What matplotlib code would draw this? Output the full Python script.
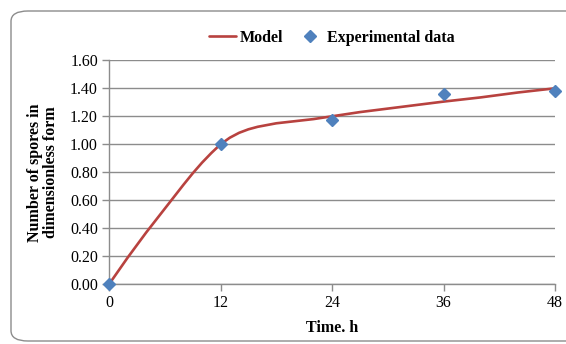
import matplotlib.pyplot as plt
from matplotlib.patches import FancyBboxPatch

plt.rcParams['font.family'] = ['Liberation Serif', 'DejaVu Serif']

# model curve (time in h, dimensionless spore count)
model_t = [0, 1, 2, 3, 4, 5, 6, 7, 8, 9, 10, 11, 12, 13, 14, 15, 16, 18, 20, 22, 24,
           27, 30, 33, 36, 40, 44, 48]
model_y = [0.0, 0.095, 0.19, 0.28, 0.37, 0.455, 0.54, 0.625, 0.71, 0.792, 0.868, 0.937, 1.0,
           1.047, 1.082, 1.107, 1.125, 1.15, 1.165, 1.18, 1.20,
           1.23, 1.255, 1.28, 1.305, 1.335, 1.37, 1.40]

# measured points
exp_t = [0, 12, 24, 36, 48]
exp_y = [0.0, 1.0, 1.175, 1.357, 1.38]

xticks = [0, 12, 24, 36, 48]
yticks = [0.0, 0.2, 0.4, 0.6, 0.8, 1.0, 1.2, 1.4, 1.6]

fig = plt.figure(figsize=(5.66, 3.44), dpi=100)
ax = fig.add_axes([0.1926, 0.1736, 0.788, 0.6511])

# chart frame
frame = FancyBboxPatch((11 / 566, 1 - 341 / 344), 600 / 566, 330 / 344,
                       boxstyle="round,pad=0,rounding_size=0.03",
                       transform=fig.transFigure, facecolor='white',
                       edgecolor='#8c8c8c', linewidth=1.0, zorder=-10)
fig.patches.append(frame)

ax.plot(model_t, model_y, color='#B8423F', linewidth=1.9, label='Model', zorder=3,
        solid_capstyle='round', solid_joinstyle='round')
ax.plot(exp_t, exp_y, linestyle='none', marker='D', markersize=6.5,
        color='#4F81BD', label='Experimental data', zorder=4, clip_on=False)

ax.set_xlim(0, 48)
ax.set_ylim(0, 1.6)
ax.set_xticks(xticks)
ax.set_yticks(yticks)
ax.set_yticklabels([f'{v:.2f}' for v in yticks])
ax.tick_params(axis='both', labelsize=11.5, color='#8c8c8c', length=5, width=1,
               direction='out', pad=3)
ax.grid(axis='y', color='#8c8c8c', linewidth=1)
ax.set_axisbelow(True)
for side in ['top', 'right']:
    ax.spines[side].set_visible(False)
for side in ['left', 'bottom']:
    ax.spines[side].set_color('#8c8c8c')
    ax.spines[side].set_linewidth(1)

ax.set_xlabel('Time. h', fontsize=11.5, fontweight='bold', labelpad=6)
ax.set_ylabel('Number of spores in\ndimensionless form', fontsize=11.5,
              fontweight='bold', labelpad=8, linespacing=1.0)

ax.legend(loc='lower center', bbox_to_anchor=(0.5, 1.0), ncol=2, frameon=False,
          prop={'size': 11.5, 'weight': 'bold'}, handlelength=1.7,
          columnspacing=0.8, handletextpad=0.25)

fig.savefig('out.png', dpi=100)
